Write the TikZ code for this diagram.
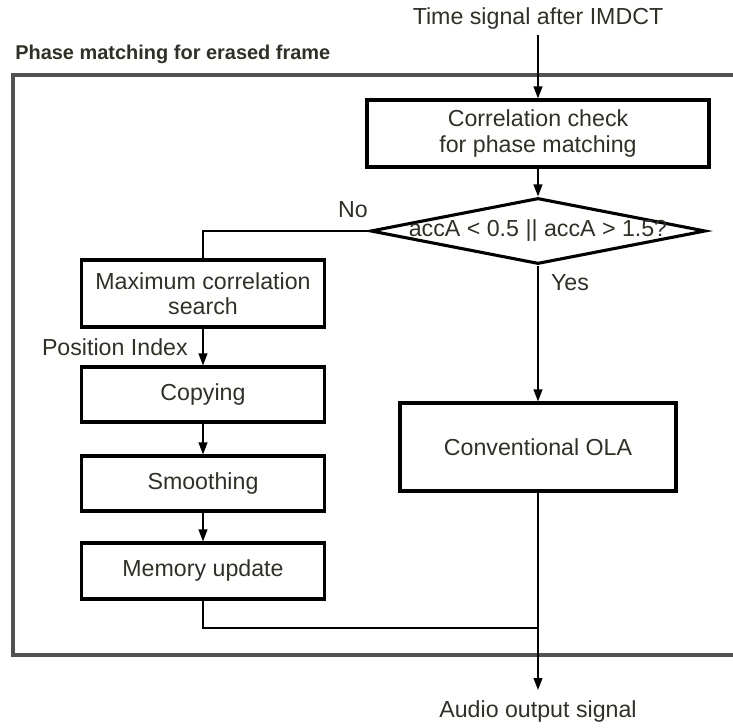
\documentclass[tikz,border=0pt]{standalone}
\usepackage{fontspec}
\setmainfont{Liberation Sans}
\usetikzlibrary{arrows.meta,shapes.geometric}
\definecolor{txtgray}{RGB}{48,48,38}
\definecolor{framegray}{RGB}{82,82,82}

\begin{document}
\begin{tikzpicture}[x=0.25cm,y=0.25cm,
        txt/.style={text=txtgray,font=\fontsize{16.5}{17.8}\selectfont},
        blk/.style={txt,draw=black,line width=2.2pt,inner sep=0pt,align=center},
        decision/.style={draw=black,line width=2.2pt,diamond,shape aspect=5,
            inner sep=0pt,minimum width=8.375cm,minimum height=1.65cm},
        flow/.style={draw=black,line width=1.1pt,-{Triangle[length=3mm,width=2.2mm]}},
        link/.style={draw=black,line width=0.8pt},
        frame/.style={draw=framegray,line width=2.8pt}]
        \useasboundingbox (0,0) rectangle (73.3,72.7);

        % outer frame, open to the right
        \draw[frame] (73.3,65.2) -- (1.3,65.2) -- (1.3,7.2) -- (73.3,7.2);
        \node[txt,anchor=west,inner sep=0pt,font=\fontsize{14.2}{17}\selectfont\bfseries] (title) at (1.5,67.3) {Phase matching for erased frame};

        \node[txt] (timesig) at (53.8,70.8) {Time signal after IMDCT};
        \node[blk,minimum width=8.55cm,minimum height=1.675cm] (corr) at (53.8,59.35) {Correlation check\\for phase matching};
        \node[decision] (check) at (53.8,49.6) {};
        \node[txt] (cond) at (check) {accA < 0.5 || accA > 1.5?};
        \node[txt] (no) at (35.3,51.7) {No};
        \node[txt] (yes) at (57.0,44.4) {Yes};

        \node[blk,minimum width=6.9cm,minimum height=2.2cm] (ola) at (53.8,28.0) {Conventional OLA};

        % left branch
        \node[blk,minimum width=6.075cm,minimum height=1.675cm] (maxsearch) at (20.3,43.35) {Maximum correlation\\search};
        \node[txt,anchor=east,inner sep=0pt] (posidx) at (18.8,38.0) {Position Index};
        \node[blk,minimum width=6.075cm,minimum height=1.375cm] (copying) at (20.3,33.25) {Copying};
        \node[blk,minimum width=6.075cm,minimum height=1.375cm] (smoothing) at (20.3,24.35) {Smoothing};
        \node[blk,minimum width=6.075cm,minimum height=1.4cm] (memory) at (20.3,15.6) {Memory update};

        \coordinate (join) at (53.8,9.9);
        \coordinate (outend) at (53.8,3.7);
        \node[txt] (audio) at (53.8,1.5) {Audio output signal};

        \draw[flow] (timesig) -- (corr);
        \draw[flow] (corr) -- (check);
        \draw[link] (check.west) -| (maxsearch.north);
        \draw[flow] (check.south) -- (ola.north);
        \draw[flow] (maxsearch) -- (copying);
        \draw[flow] (copying) -- (smoothing);
        \draw[flow] (smoothing) -- (memory);
        \draw[link] (memory.south) |- (join);
        \draw[flow] (ola.south) -- (outend);

    \end{tikzpicture}
\end{document}
